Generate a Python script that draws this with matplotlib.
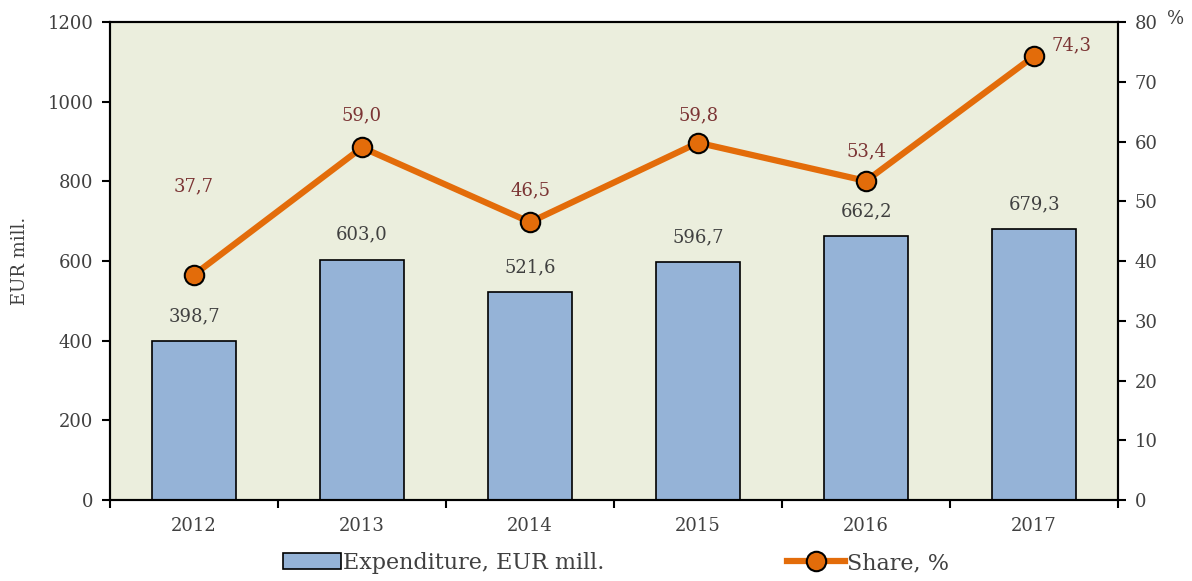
import numpy as np
import matplotlib
matplotlib.use("Agg")
from matplotlib import pyplot as plt

# data
years = ["2012", "2013", "2014", "2015", "2016", "2017"]
expenditure = [398.7, 603.0, 521.6, 596.7, 662.2, 679.3]
share = [37.7, 59.0, 46.5, 59.8, 53.4, 74.3]

# label offsets for the share line (points)
share_offsets = [(0, 64), (0, 23), (0, 23), (0, 20), (0, 21), (27, 8)]

plt.rcParams['font.family'] = ['DejaVu Serif']

fig = plt.figure(figsize=(11.92, 5.81), dpi=100)
ax = fig.add_axes([0.0923, 0.1394, 0.8457, 0.8227])
ax.set_facecolor('#EBEEDD')
x = np.arange(len(years))

ax.bar(x, expenditure, width=0.5, color='#95B3D7', edgecolor='black',
       linewidth=1.2, label='Expenditure, EUR mill.', zorder=2)
for xi, v in zip(x, expenditure):
    ax.annotate(f"{v:.1f}".replace('.', ','), (xi, v), xytext=(0, 18),
                textcoords='offset points', ha='center', va='center',
                fontsize=13, color='#404040')

ax.set_xlim(-0.5, len(years) - 0.5)
ax.set_ylim(0, 1200)
ax.set_yticks(range(0, 1201, 200))
ax.set_xticks(np.arange(-0.5, len(years), 1))
ax.set_xticklabels([])
ax.set_xticks(x, minor=True)
ax.set_xticklabels(years, minor=True)
ax.tick_params(axis='x', which='minor', length=0, pad=12, labelsize=13, labelcolor='#404040')
ax.tick_params(axis='x', which='major', length=6, width=1.5, direction='out')
ax.tick_params(axis='y', length=6, width=1.5, labelsize=13, labelcolor='#404040', pad=6)
ax.set_ylabel('EUR mill.', fontsize=13, color='#404040', labelpad=13)
for s in ax.spines.values():
    s.set_linewidth(1.5)

ax2 = ax.twinx()
ax2.plot(x, share, color='#E36C0A', linewidth=4.5, marker='o', markersize=14,
         markerfacecolor='#E36C0A', markeredgecolor='black', markeredgewidth=1.5,
         label='Share, %', zorder=3)
for xi, v, off in zip(x, share, share_offsets):
    ax2.annotate(f"{v:.1f}".replace('.', ','), (xi, v), xytext=off,
                 textcoords='offset points', ha='center', va='center',
                 fontsize=13, color='#7B3434')
ax2.set_ylim(0, 80)
ax2.set_yticks(range(0, 81, 10))
ax2.tick_params(axis='y', length=6, width=1.5, labelsize=13, labelcolor='#404040', pad=6)
for s in ax2.spines.values():
    s.set_linewidth(1.5)
fig.text(0.986, 0.968, '%', fontsize=13, color='#404040', ha='center', va='center')

h1, l1 = ax.get_legend_handles_labels()
h2, l2 = ax2.get_legend_handles_labels()
fig.legend(h1 + h2, l1 + l2, loc='center', bbox_to_anchor=(0.517, 0.031), ncol=2,
           frameon=False, fontsize=16, columnspacing=8.2, handlelength=2.6,
           handletextpad=0.1, labelcolor='#404040')

fig.savefig('out.png', dpi=100)
